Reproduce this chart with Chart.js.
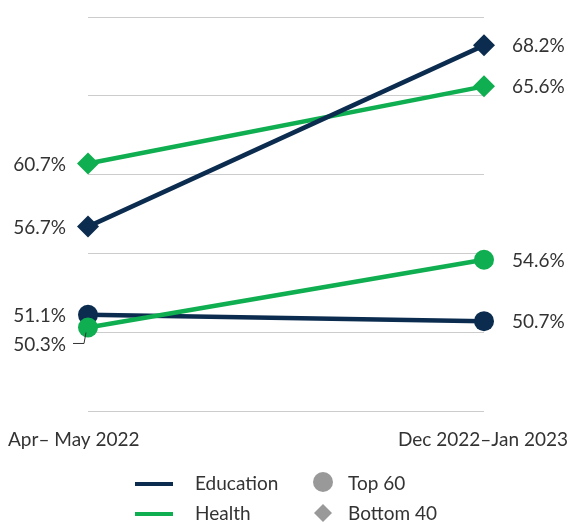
<!DOCTYPE html>
<html>
<head>
<meta charset="utf-8">
<script src="https://cdn.jsdelivr.net/npm/chart.js@4"></script>
<style>
  html, body { margin: 0; padding: 0; background: #fff; }
  #wrap { width: 571px; height: 523px; position: relative; }
</style>
</head>
<body>
<div id="wrap"><canvas id="Chart1"></canvas></div>
<script>
// chart data
var periods = ["Apr\u2013 May 2022", "Dec 2022\u2013Jan 2023"];
var eduBottom40 = [56.7, 68.2];
var healthBottom40 = [60.7, 65.6];
var eduTop60 = [51.1, 50.7];
var healthTop60 = [50.3, 54.6];
var yTicks = [45, 50, 55, 60, 65, 70];

var NAVY = "#0b2c4f";
var GREEN = "#0fae50";
var GREY = "#999999";
var FONT = "Lato, sans-serif";
var FSIZE = "19px ";

// value labels beside each point
var labelPlugin = {
    id: 'pointLabels',
    afterDatasetsDraw: function (chart) {
        var ctx = chart.ctx;
        ctx.save();
        ctx.font = FSIZE + FONT;
        ctx.fillStyle = "#333";
        ctx.textBaseline = 'middle';
        chart.data.datasets.forEach(function (ds, i) {
            var meta = chart.getDatasetMeta(i);
            meta.data.forEach(function (pt, j) {
                var txt = ds.data[j].toFixed(1) + '%';
                var y = pt.y;
                if (j == 0) {
                    ctx.textAlign = 'right';
                    if (ds.nudge) {
                        y = pt.y + ds.nudge;
                        ctx.strokeStyle = "#333";
                        ctx.lineWidth = 1;
                        ctx.beginPath();
                        ctx.moveTo(pt.x - 15, y);
                        ctx.lineTo(pt.x - 4, y);
                        ctx.lineTo(pt.x - 2, pt.y + 5);
                        ctx.stroke();
                    }
                    ctx.fillText(txt, pt.x - 22, y + 1);
                } else {
                    ctx.textAlign = 'left';
                    ctx.fillText(txt, pt.x + 28, y + 1);
                }
            });
        });
        ctx.restore();
    }
};

// x labels and legend under the plot
var footerPlugin = {
    id: 'footer',
    afterDraw: function (chart) {
        var ctx = chart.ctx;
        ctx.save();
        ctx.font = FSIZE + FONT;
        ctx.fillStyle = "#333";
        ctx.textBaseline = 'middle';
        ctx.textAlign = 'left';
        ctx.fillText(periods[0], 8, 440);
        ctx.textAlign = 'right';
        ctx.fillText(periods[1], 568, 440);

        ctx.textAlign = 'left';
        ctx.lineWidth = 4;
        ctx.strokeStyle = NAVY;
        ctx.beginPath(); ctx.moveTo(135, 484); ctx.lineTo(173, 484); ctx.stroke();
        ctx.strokeStyle = GREEN;
        ctx.beginPath(); ctx.moveTo(135, 514); ctx.lineTo(173, 514); ctx.stroke();
        ctx.fillText("Education", 195, 484);
        ctx.fillText("Health", 195, 514);

        ctx.fillStyle = GREY;
        ctx.beginPath(); ctx.arc(323, 482, 10, 0, Math.PI * 2); ctx.fill();
        ctx.beginPath();
        ctx.moveTo(323, 504); ctx.lineTo(332, 513); ctx.lineTo(323, 522); ctx.lineTo(314, 513);
        ctx.closePath(); ctx.fill();
        ctx.fillStyle = "#333";
        ctx.fillText("Top 60", 348, 484);
        ctx.fillText("Bottom 40", 348, 514);
        ctx.restore();
    }
};

function makeSet(label, data, color, style, radius, extra) {
    var ds = {
        label: label,
        data: data,
        borderColor: color,
        backgroundColor: color,
        pointBackgroundColor: color,
        pointBorderColor: color,
        borderWidth: 4.5,
        pointStyle: style,
        pointRadius: radius,
        pointHoverRadius: radius,
        pointBorderWidth: 0,
        tension: 0
    };
    return Object.assign(ds, extra || {});
}

var ctx1 = document.getElementById("Chart1");
var Chart1 = new Chart(ctx1, {
    type: 'line',
    data: {
        labels: periods,
        datasets: [
            makeSet('Health Top 60', healthTop60, GREEN, 'circle', 10, { nudge: 16 }),
            makeSet('Education Top 60', eduTop60, NAVY, 'circle', 10),
            makeSet('Education Bottom 40', eduBottom40, NAVY, 'rectRot', 11),
            makeSet('Health Bottom 40', healthBottom40, GREEN, 'rectRot', 11)
        ]
    },
    options: {
        responsive: true,
        maintainAspectRatio: false,
        animation: false,
        layout: { padding: { left: 88, right: 87, top: 17, bottom: 112 } },
        plugins: {
            legend: { display: false },
            tooltip: { enabled: false }
        },
        scales: {
            x: { display: false, offset: false },
            y: {
                min: 45,
                max: 70,
                afterBuildTicks: function (scale) {
                    scale.ticks = yTicks.map(function (v) { return { value: v }; });
                },
                afterFit: function (scale) { scale.width = 0; },
                ticks: { display: false },
                border: { display: false },
                grid: { color: "#cccccc", lineWidth: 1, drawTicks: false }
            }
        }
    },
    plugins: [labelPlugin, footerPlugin]
});
</script>
</body>
</html>
